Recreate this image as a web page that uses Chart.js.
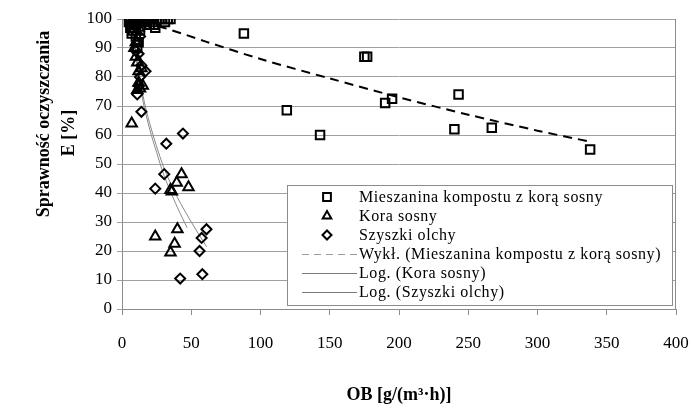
<!DOCTYPE html>
<html>
<head>
<meta charset="utf-8">
<script src="https://cdn.jsdelivr.net/npm/chart.js@4.4.0/dist/chart.umd.min.js"></script>
<style>
    html, body { margin: 0; padding: 0; background: #fff; }
    #wrap { width: 695px; height: 410px; }
</style>
</head>
<body>
<div id="wrap"><canvas id="chart" width="695" height="410"></canvas></div>
<script>
// Data
const seriesNames = [
    'Mieszanina kompostu z korą sosny',
    'Kora sosny',
    'Szyszki olchy',
    'Wykł. (Mieszanina kompostu z korą sosny)',
    'Log. (Kora sosny)',
    'Log. (Szyszki olchy)'
];

// Mieszanina kompostu z korą sosny (squares)
const mixX = [5, 6, 6, 7, 7, 8, 8, 9, 9, 10, 10, 11, 12, 11, 12, 13, 14, 16, 18, 20, 20, 22, 23, 24, 25, 27, 29, 31, 33, 35,
    88, 119, 143, 175, 177, 190, 195, 240, 243, 267, 338];
const mixY = [99, 97, 100, 98, 95, 99, 96, 100, 97, 98, 94, 99, 92, 90, 100, 96, 100, 99, 100, 100, 98, 99, 98, 97, 100, 100, 100, 99, 100, 100,
    95, 68.5, 60, 87, 87, 71, 72.5, 62, 74, 62.5, 55];

// Kora sosny (triangles)
const koraX = [7, 9, 10, 11, 12, 12, 13, 14, 15, 11, 10, 12, 13, 15, 43, 39.5, 48, 35, 36, 24, 40, 38, 35];
const koraY = [64, 90, 87, 85, 82, 78, 76, 83, 77, 75.5, 92, 97, 99, 99, 46.5, 43.5, 42, 41, 40.5, 25, 27.5, 22.5, 19.5];

// Szyszki olchy (diamonds)
const olchaX = [10, 11, 12, 14, 17, 13, 12, 11, 14, 44, 32, 30.5, 24, 61, 57.5, 56, 58, 42, 13, 9];
const olchaY = [89, 92, 88, 84, 82, 80, 77, 74, 68, 60.5, 57, 46.5, 41.5, 27.5, 24.5, 20, 12, 10.5, 94, 96];

// Trendlines, points
const expX = [5, 30, 60, 100, 150, 200, 250, 300, 338];
const expY = [100, 97, 92.3, 86.2, 79.5, 73, 67, 61.5, 57.7];
const logKoraX = [7, 10, 15, 20, 25, 30, 35, 40, 47];
const logKoraY = [100, 87, 72, 62, 54, 46.5, 40.5, 35, 28];
const logOlchaX = [7.5, 10, 15, 20, 30, 40, 50, 61];
const logOlchaY = [100, 89, 74, 64, 49, 38.5, 30, 21.5];

const xTicks = [0, 50, 100, 150, 200, 250, 300, 350, 400];

const FONT = '"Liberation Serif", "Times New Roman", serif';

function toPoints(xs, ys) {
    return xs.map((x, i) => ({ x: x, y: ys[i] }));
}

// Axis titles, plot border and legend box
const decorPlugin = {
    id: 'decor',
    afterDraw(chart) {
        const ctx = chart.ctx;
        const a = chart.chartArea;
        ctx.save();

        // right border of the plot
        ctx.strokeStyle = '#8c8c8c';
        ctx.lineWidth = 1;
        ctx.beginPath();
        ctx.moveTo(Math.round(a.right) - 0.5, a.top);
        ctx.lineTo(Math.round(a.right) - 0.5, a.bottom);
        ctx.stroke();

        // y title
        ctx.fillStyle = '#000';
        ctx.font = 'bold 18px ' + FONT;
        ctx.textAlign = 'center';
        ctx.textBaseline = 'middle';
        ctx.save();
        ctx.translate(44, 124);
        ctx.rotate(-Math.PI / 2);
        ctx.fillText('Sprawność oczyszczania', 0, 0);
        ctx.restore();
        ctx.save();
        ctx.translate(69, 133);
        ctx.rotate(-Math.PI / 2);
        ctx.fillText('E [%]', 0, 0);
        ctx.restore();

        // x title
        ctx.fillText('OB [g/(m³·h)]', 399, 395);

        // legend
        const box = { left: 287, top: 185, right: 672, bottom: 305 };
        ctx.fillStyle = '#fff';
        ctx.fillRect(box.left, box.top, box.right - box.left, box.bottom - box.top);
        ctx.strokeStyle = '#8c8c8c';
        ctx.strokeRect(box.left + 0.5, box.top + 0.5, box.right - box.left, box.bottom - box.top);

        const rowY = [197, 216, 235, 254, 273, 292];
        const styles = ['rect', 'triangle', 'rectRot'];
        const radii = [5.5, 5, 4.5];
        ctx.font = '16px ' + FONT;
        ctx.letterSpacing = '0.6px';
        ctx.textAlign = 'left';
        seriesNames.forEach((name, i) => {
            const y = rowY[i];
            ctx.save();
            if (i < 3) {
                ctx.fillStyle = '#fff';
                ctx.strokeStyle = '#000';
                ctx.lineWidth = 2;
                Chart.helpers.drawPoint(ctx, { pointStyle: styles[i], radius: radii[i], borderWidth: 2, rotation: 0 }, 327, y);
            } else {
                ctx.beginPath();
                ctx.moveTo(302, y + 0.5);
                ctx.lineTo(357, y + 0.5);
                if (i === 3) {
                    ctx.strokeStyle = '#9a9a9a';
                    ctx.setLineDash([7, 5]);
                } else {
                    ctx.strokeStyle = '#7a7a7a';
                }
                ctx.lineWidth = 1;
                ctx.stroke();
            }
            ctx.restore();
            ctx.fillStyle = '#000';
            ctx.fillText(name, 359, y + 1);
        });
        ctx.restore();
    }
};

const markerBase = {
    type: 'scatter',
    backgroundColor: 'rgba(255,255,255,0)',
    borderColor: '#000',
    borderWidth: 2,
    showLine: false
};

const lineBase = {
    type: 'scatter',
    showLine: true,
    pointRadius: 0,
    fill: false,
    tension: 0.3
};

new Chart(document.getElementById('chart'), {
    type: 'scatter',
    data: {
        datasets: [
            { ...markerBase, label: seriesNames[0], data: toPoints(mixX, mixY), pointStyle: 'rect', pointRadius: 6 },
            { ...markerBase, label: seriesNames[1], data: toPoints(koraX, koraY), pointStyle: 'triangle', pointRadius: 6 },
            { ...markerBase, label: seriesNames[2], data: toPoints(olchaX, olchaY), pointStyle: 'rectRot', pointRadius: 5 },
            { ...lineBase, label: seriesNames[3], data: toPoints(expX, expY), borderColor: '#000', borderWidth: 2, borderDash: [9, 6] },
            { ...lineBase, label: seriesNames[4], data: toPoints(logKoraX, logKoraY), borderColor: '#8a8a8a', borderWidth: 1 },
            { ...lineBase, label: seriesNames[5], data: toPoints(logOlchaX, logOlchaY), borderColor: '#8a8a8a', borderWidth: 1 }
        ]
    },
    options: {
        responsive: false,
        animation: false,
        layout: { padding: { left: 0, top: 19, right: 19, bottom: 0 } },
        plugins: {
            legend: { display: false },
            tooltip: { enabled: false }
        },
        scales: {
            x: {
                type: 'linear',
                min: 0,
                max: 400,
                // fixed plot box: no extra room for the end labels
                afterFit: (scale) => { scale.height = 101; scale.paddingRight = 0; scale.paddingLeft = 0; },
                afterBuildTicks: (scale) => { scale.ticks = xTicks.map(v => ({ value: v })); },
                grid: { drawOnChartArea: false, drawTicks: true, tickLength: 6, color: '#8c8c8c' },
                border: { color: '#8c8c8c' },
                ticks: { color: '#000', font: { family: FONT, size: 17 }, padding: 18, maxRotation: 0 }
            },
            y: {
                min: 0,
                max: 100,
                afterFit: (scale) => { scale.width = 122; },
                grid: { color: '#a0a0a0', tickLength: 5 },
                border: { color: '#8c8c8c' },
                ticks: { stepSize: 10, color: '#000', font: { family: FONT, size: 17 }, padding: 5 }
            }
        }
    },
    plugins: [decorPlugin]
});
</script>
</body>
</html>
